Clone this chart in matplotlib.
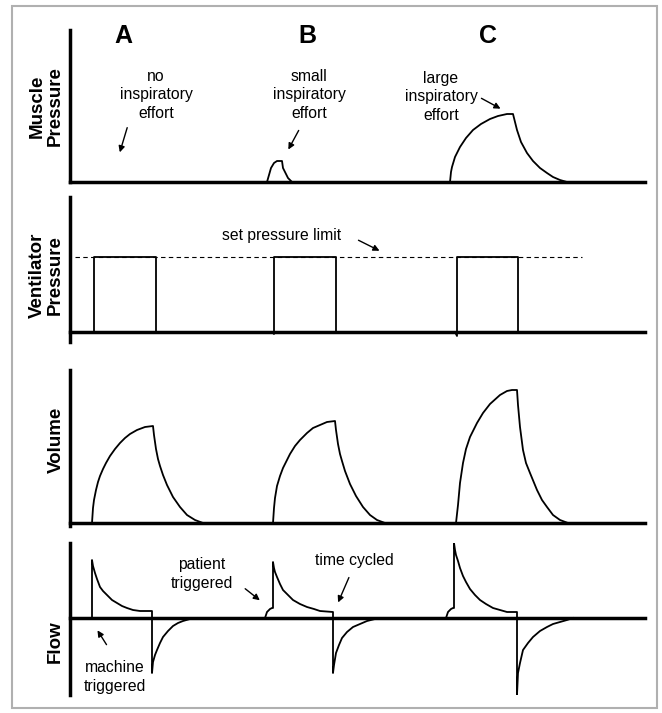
import matplotlib.pyplot as plt
from matplotlib.patches import Rectangle, FancyArrowPatch

plt.rcParams['font.family'] = ['Liberation Sans', 'DejaVu Sans']

W, H = 662, 713

# time axis in arbitrary units (0..575) shared by all panels,
# amplitudes in arbitrary units per panel
breath_names = ['A', 'B', 'C']

# muscle pressure (only B and C make an effort)
musc_B_t = [197, 199, 201, 204, 207, 212, 213, 215, 218, 222]
musc_B_p = [0, 7, 14, 19, 21, 21, 14, 10, 4, 0]
musc_C_t = [380, 381, 382, 385, 390, 396, 403, 411, 420, 428, 437, 443,
            445, 447, 451, 457, 463, 470, 477, 483, 490, 497]
musc_C_p = [0, 10, 15, 25, 35, 44, 52, 58, 63, 66, 68, 68,
            60, 52, 40, 29, 21, 14, 9, 5, 2, 0]

# ventilator pressure, square waves up to the set limit
vent_on = [24, 204, 387]
vent_off = [86, 266, 448]
vent_dip = [0, -2, -4]
vent_limit = 75
vent_limit_span = [5, 512]

# volume
vol_A_t = [22, 23, 24, 26, 28, 30, 33, 36, 40, 45, 50, 55, 60, 67, 75, 83,
           84, 86, 88, 90, 93, 97, 103, 110, 117, 125, 133]
vol_A_v = [0, 15, 23, 33, 41, 47, 54, 60, 67, 74, 80, 85, 89, 93, 96, 97,
           88, 74, 64, 57, 48, 38, 26, 16, 8, 3, 0]
vol_B_t = [203, 204, 205, 207, 210, 213, 217, 220, 225, 230, 237, 243, 250, 257, 265,
           266, 268, 270, 272, 275, 280, 286, 293, 300, 307, 315]
vol_B_v = [0, 15, 25, 37, 47, 55, 63, 69, 77, 83, 90, 95, 98, 101, 102,
           93, 79, 69, 62, 52, 39, 27, 16, 8, 3, 0]
vol_C_t = [386, 388, 390, 393, 396, 400, 407, 413, 420, 430, 437, 442, 447,
           448, 450, 453, 456, 460, 467, 472, 477, 483, 490, 498]
vol_C_v = [0, 18, 40, 60, 74, 86, 100, 110, 119, 128, 132, 133, 133,
           118, 96, 73, 60, 50, 33, 23, 16, 8, 3, 0]

# flow
flow_A_t = [22, 22, 23, 25, 27, 30, 33, 37, 42, 47, 52, 57, 63, 70, 82,
            82, 83, 85, 87, 90, 93, 98, 103, 108, 113, 120, 127]
flow_A_f = [0, 58, 52, 45, 39, 31, 27, 23, 18, 15, 12, 10, 8, 7, 7,
            -55, -44, -37, -32, -25, -19, -13, -8, -5, -3, -1, 0]
flow_B_t = [195, 197, 200, 202, 203, 203, 204, 205, 207, 210, 213, 218, 223, 230, 237,
            244, 250, 263, 263, 264, 266, 269, 272, 277, 283, 290, 297, 305, 313]
flow_B_f = [0, 6, 9, 10, 10, 56, 50, 46, 41, 34, 28, 23, 18, 14, 11,
            9, 7, 6, -55, -47, -35, -27, -20, -14, -9, -6, -3, -1, 0]
flow_C_t = [376, 378, 381, 383, 384, 384, 385, 386, 388, 390, 393, 396, 400, 405, 410,
            416, 423, 430, 437, 447, 447, 448, 450, 453, 458, 463, 470, 477, 483,
            490, 497, 503]
flow_C_f = [0, 6, 9, 10, 10, 75, 68, 63, 57, 50, 42, 36, 29, 23, 18,
            14, 10, 8, 6, 6, -77, -55, -45, -32, -25, -19, -13, -9, -6,
            -4, -2, 0]


def fx(x):
    return x / W


def fy(y):
    return 1 - y / H


def panel(top, bottom, ylim):
    ax = fig.add_axes([fx(70), fy(bottom), 575 / W, (bottom - top) / H])
    ax.set_xlim(0, 575)
    ax.set_ylim(*ylim)
    for s in ['top', 'right', 'bottom']:
        ax.spines[s].set_visible(False)
    ax.spines['left'].set_linewidth(2.5)
    ax.set_xticks([])
    ax.set_yticks([])
    ax.patch.set_alpha(0)
    ax.axhline(0, color='black', lw=2.5, clip_on=False)
    return ax


def label(x, y, s, **kw):
    fig.text(fx(x), fy(y), s, ha='center', va='center', **kw)


def arrow(x0, y0, x1, y1):
    fig.add_artist(FancyArrowPatch((fx(x0), fy(y0)), (fx(x1), fy(y1)),
                                   transform=fig.transFigure, arrowstyle='-|>',
                                   mutation_scale=9, lw=1, color='black'))


fig = plt.figure(figsize=(W / 100, H / 100), dpi=100)

line_kw = dict(color='black', lw=1.3)

# muscle pressure
ax1 = panel(30, 182, (0, 152))
ax1.plot(musc_B_t, musc_B_p, **line_kw)
ax1.plot(musc_C_t, musc_C_p, **line_kw)

# ventilator pressure
ax2 = panel(197, 342, (-10, 135))
vt, vp = [0], [0]
for on, off, dip in zip(vent_on, vent_off, vent_dip):
    vt += [on - 2, on, on, off, off]
    vp += [0, dip, vent_limit, vent_limit, 0]
vt.append(575)
vp.append(0)
ax2.plot(vt, vp, **line_kw)
ax2.plot(vent_limit_span, [vent_limit, vent_limit], color='black', lw=0.8,
         ls=(0, (4, 3)))

# volume
ax3 = panel(370, 526, (-3, 153))
ax3.plot(vol_A_t, vol_A_v, **line_kw)
ax3.plot(vol_B_t, vol_B_v, **line_kw)
ax3.plot(vol_C_t, vol_C_v, **line_kw)

# flow
ax4 = panel(543, 695, (-77, 75))
ax4.plot(flow_A_t, flow_A_f, **line_kw)
ax4.plot(flow_B_t, flow_B_f, **line_kw)
ax4.plot(flow_C_t, flow_C_f, **line_kw)

# page border of the scan
fig.add_artist(Rectangle((fx(12), fy(708)), (657 - 12) / W, (708 - 6) / H,
                         transform=fig.transFigure, fill=False,
                         ec='#b0b0b0', lw=1.5))

# column letters
for name, x in zip(breath_names, [123, 307, 488]):
    label(x, 36, name, fontsize=18, fontweight='bold')

# panel titles
ylab = dict(fontsize=13.5, fontweight='bold', rotation=90, linespacing=1.05)
label(46, 106, 'Muscle\nPressure', **ylab)
label(46, 275, 'Ventilator\nPressure', **ylab)
label(56, 440, 'Volume', **ylab)
label(55, 642, 'Flow', **ylab)

# notes
note = dict(fontsize=11.3, linespacing=1.3)
label(156, 95, 'no\ninspiratory\neffort', **note)
arrow(128, 125, 119, 155)
label(309, 95, 'small\ninspiratory\neffort', **note)
arrow(300, 128, 287, 152)
label(441, 97, 'large\ninspiratory\neffort', **note)
arrow(479, 97, 503, 110)

label(282, 235, 'set pressure limit', **note)
arrow(356, 239, 382, 252)

label(115, 677, 'machine\ntriggered', **note)
arrow(108, 647, 96, 628)
label(202, 574, 'patient\ntriggered', **note)
arrow(243, 587, 262, 602)
label(354, 560, 'time cycled', **note)
arrow(350, 575, 337, 605)

fig.savefig('out.png', dpi=100)
